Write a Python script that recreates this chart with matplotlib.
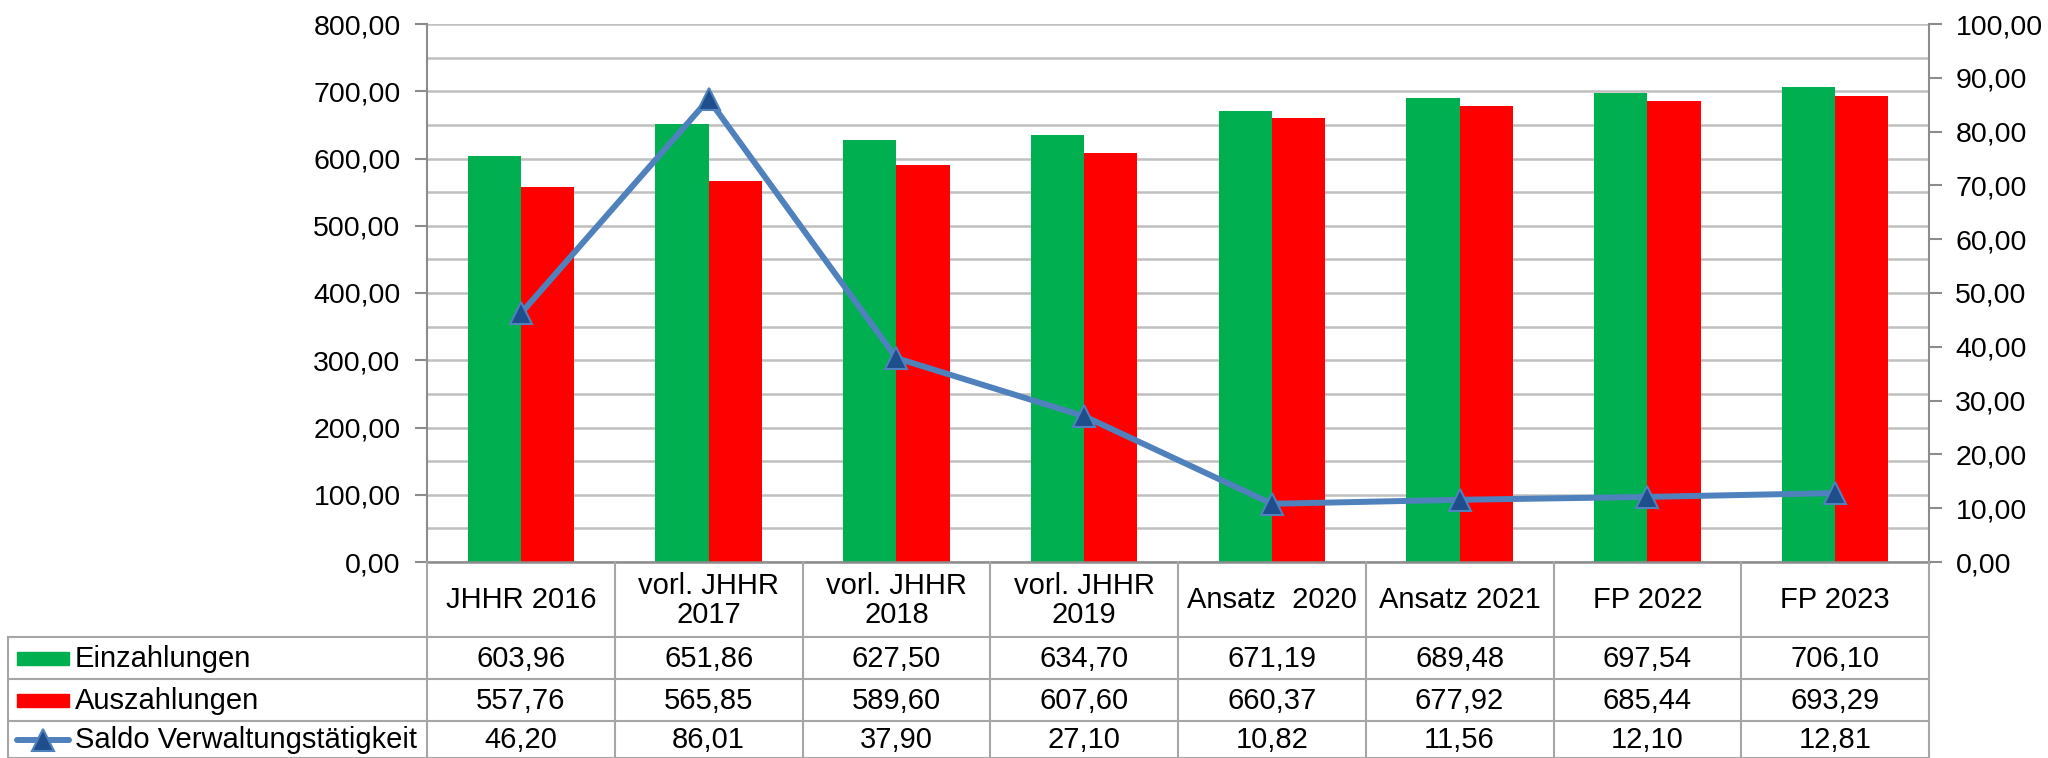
import numpy as np
import matplotlib
matplotlib.use("Agg")
import matplotlib.pyplot as plt
from matplotlib.patches import Rectangle

plt.rcParams["font.family"] = ["Liberation Sans", "DejaVu Sans"]
plt.rcParams["font.size"] = 20.5

# -----------------------------
# Data
# -----------------------------
categories = ["JHHR 2016", "vorl. JHHR\n2017", "vorl. JHHR\n2018", "vorl. JHHR\n2019",
              "Ansatz  2020", "Ansatz 2021", "FP 2022", "FP 2023"]
einzahlungen = [603.96, 651.86, 627.50, 634.70, 671.19, 689.48, 697.54, 706.10]
auszahlungen = [557.76, 565.85, 589.60, 607.60, 660.37, 677.92, 685.44, 693.29]
saldo = [46.20, 86.01, 37.90, 27.10, 10.82, 11.56, 12.10, 12.81]
series_names = ["Einzahlungen", "Auszahlungen", "Saldo Verwaltungstätigkeit"]

GREEN = "#00B050"
RED = "#FF0000"
LINE = "#4F81BD"
MARK = "#1F4E8C"
GRID = "#BFBFBF"
AXC = "#8C8C8C"
TAB = "#A6A6A6"
TFS = 21  # table font size


def de(v):
    return f"{v:.2f}".replace(".", ",")


W, H = 2048, 758
fig = plt.figure(figsize=(W / 100, H / 100), dpi=100)

# plot area in pixels
left, right, top, bottom = 427, 1929, 24, 562
ax = fig.add_axes([left / W, (H - bottom) / H, (right - left) / W, (bottom - top) / H])
ax2 = ax.twinx()

x = np.arange(len(categories))
w = 0.283
ax.bar(x - w / 2, einzahlungen, w, color=GREEN, zorder=2)
ax.bar(x + w / 2, auszahlungen, w, color=RED, zorder=2)

ax2.plot(x, saldo, color=LINE, lw=4.3, marker="^", ms=16,
         mfc=MARK, mec=LINE, mew=1.5, solid_capstyle="round", zorder=3)

# -----------------------------
# Axes formatting
# -----------------------------
ax.set_xlim(-0.5, len(categories) - 0.5)
ax.set_ylim(0, 800)
ax2.set_ylim(0, 100)
ax.set_xticks([])

ax.set_yticks(np.arange(0, 801, 100))
ax.set_yticks(np.arange(0, 801, 50), minor=True)
ax.set_yticklabels([de(v) for v in np.arange(0, 801, 100)])
ax2.set_yticks(np.arange(0, 101, 10))
ax2.set_yticklabels([de(v) for v in np.arange(0, 101, 10)])

ax.yaxis.grid(True, which="both", color=GRID, lw=1.8, zorder=0)
ax.set_axisbelow(True)

ax.tick_params(axis="y", which="major", length=9, width=1.5, color=AXC, pad=10)
ax.tick_params(axis="y", which="minor", length=0)
ax2.tick_params(axis="y", which="major", length=9, width=1.5, color=AXC, pad=10)

for a in (ax, ax2):
    a.spines["top"].set_visible(False)
ax.spines["right"].set_visible(False)
ax2.spines["left"].set_visible(False)
ax2.spines["bottom"].set_visible(False)
ax.spines["left"].set_color(AXC)
ax.spines["left"].set_linewidth(1.5)
ax.spines["bottom"].set_color(AXC)
ax.spines["bottom"].set_linewidth(1.8)
ax2.spines["right"].set_color(AXC)
ax2.spines["right"].set_linewidth(1.5)

# -----------------------------
# Data table below the chart
# -----------------------------
tax = fig.add_axes([0, 0, 1, 1], zorder=5)
tax.set_xlim(0, W)
tax.set_ylim(H, 0)
tax.axis("off")

# column boundaries from the main axis scale
fig.canvas.draw()
bx = [ax.transData.transform((i - 0.5, 0))[0] for i in range(len(categories) + 1)]
centers = [(bx[i] + bx[i + 1]) / 2 for i in range(len(categories))]

table_left = 8
rows = [bottom, 637, 679, 721, H]

for xb in bx:
    tax.plot([xb, xb], [rows[0], rows[-1]], color=TAB, lw=1.5)
tax.plot([table_left, table_left], [rows[1], rows[-1]], color=TAB, lw=1.5)
for yr in rows[1:4]:
    tax.plot([table_left, bx[-1]], [yr, yr], color=TAB, lw=1.5)
tax.plot([table_left, bx[-1]], [H - 0.5, H - 0.5], color=TAB, lw=1.5)

for c, lab in zip(centers, categories):
    tax.text(c, (rows[0] + rows[1]) / 2 + 1, lab, ha="center", va="center",
             multialignment="center", linespacing=1.05, fontsize=TFS)

for r, vals in enumerate([einzahlungen, auszahlungen, saldo]):
    yc = (rows[r + 1] + rows[r + 2]) / 2 + 1
    for c, v in zip(centers, vals):
        tax.text(c, yc, de(v), ha="center", va="center", fontsize=TFS)
    tax.text(75, yc, series_names[r], ha="left", va="center", fontsize=TFS)

# legend keys
y1 = (rows[1] + rows[2]) / 2
y2 = (rows[2] + rows[3]) / 2
y3 = (rows[3] + rows[4]) / 2
tax.add_patch(Rectangle((17, y1 - 6.5), 52, 13, color=GREEN))
tax.add_patch(Rectangle((17, y2 - 6.5), 52, 13, color=RED))
tax.plot([17, 69], [y3, y3], color=LINE, lw=4.3, solid_capstyle="round")
tax.plot([43], [y3], marker="^", ms=16, mfc=MARK, mec=LINE, mew=1.5, color=LINE)

fig.savefig("out.png", dpi=100)
